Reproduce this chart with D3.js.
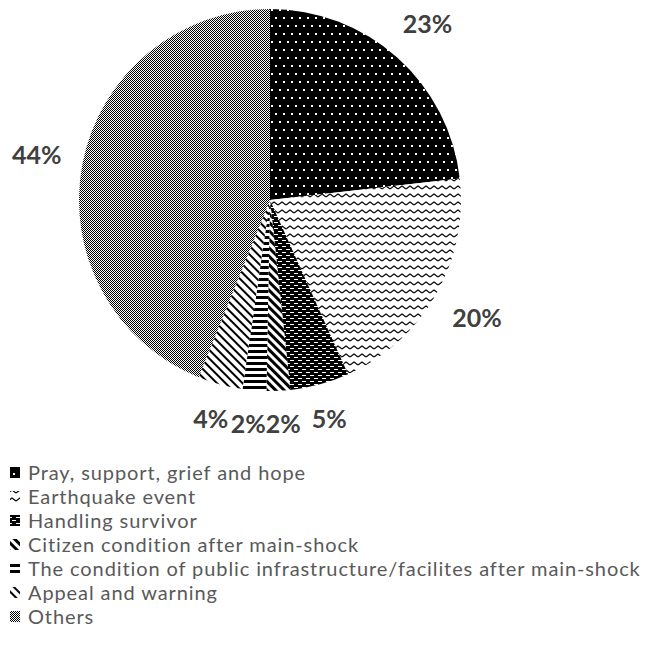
<!DOCTYPE html>
<html>
<head>
<meta charset="utf-8">
<script src="https://cdn.jsdelivr.net/npm/d3@7"></script>
<style>
  body { margin: 0; background: #fff; }
  svg { display: block; }
</style>
</head>
<body>
<svg width="649" height="658"></svg>
<script>
var categories = ["Pray, support, grief and hope", "Earthquake event", "Handling survivor", "Citizen condition after main-shock", "The condition of public infrastructure/facilites after main-shock", "Appeal and warning", "Others"];
var shares = [23.2, 20.1, 5.0, 2.0, 2.0, 3.8, 43.9];
var labels = ["23%", "20%", "5%", "2%", "2%", "4%", "44%"];
var patternIds = ["pDots", "pWave", "pBrick", "pDiag", "pHoriz", "pThin", "pCheck"];

var svg = d3.select("svg"),
    width = +svg.attr("width"),
    height = +svg.attr("height"),
    cx = 270, cy = 200,
    radius = 191;

var defs = svg.append("defs");

function makePattern(id, w, h, bg, rot) {
  var p = defs.append("pattern")
      .attr("id", id)
      .attr("patternUnits", "userSpaceOnUse")
      .attr("width", w)
      .attr("height", h)
      .attr("shape-rendering", "crispEdges");
  if (rot) p.attr("patternTransform", "rotate(" + rot + ")");
  p.append("rect").attr("width", w).attr("height", h).attr("fill", bg);
  return p;
}

// black with white dots
var p = makePattern("pDots", 8, 16, "#000");
p.append("rect").attr("x", 1).attr("y", 1).attr("width", 2).attr("height", 2).attr("fill", "#fff");
p.append("rect").attr("x", 5).attr("y", 9).attr("width", 2).attr("height", 2).attr("fill", "#fff");

// white with zigzag waves
p = makePattern("pWave", 8, 8, "#fff");
p.append("path").attr("d", "M0,5 L4,2 L8,5").attr("fill", "none")
    .attr("stroke", "#000").attr("stroke-width", 1.1).attr("shape-rendering", "auto");

// black with staggered white dashes
p = makePattern("pBrick", 8, 6, "#000");
p.append("rect").attr("x", 0).attr("y", 1).attr("width", 4).attr("height", 1).attr("fill", "#fff");
p.append("rect").attr("x", 4).attr("y", 4).attr("width", 4).attr("height", 1).attr("fill", "#fff");

// wide downward diagonal
p = makePattern("pDiag", 6, 6, "#fff", -45);
p.append("rect").attr("width", 3).attr("height", 6).attr("fill", "#000");

// wide horizontal
p = makePattern("pHoriz", 6, 6, "#fff");
p.append("rect").attr("width", 6).attr("height", 3).attr("fill", "#000");

// thin downward diagonal
p = makePattern("pThin", 6, 6, "#fff", -45);
p.append("rect").attr("width", 1.6).attr("height", 6).attr("fill", "#000");

// 50% checker
p = makePattern("pCheck", 2, 2, "#fff");
p.append("rect").attr("width", 1).attr("height", 1).attr("fill", "#000");
p.append("rect").attr("x", 1).attr("y", 1).attr("width", 1).attr("height", 1).attr("fill", "#000");

var pie = d3.pie().sort(null).value(function(d) { return d; });
var arcs = pie(shares);

var arc = d3.arc().innerRadius(0).outerRadius(radius);

var g = svg.append("g").attr("transform", "translate(" + cx + "," + cy + ")");

g.selectAll("path.slice")
  .data(arcs)
  .enter().append("path")
    .attr("class", "slice")
    .attr("d", arc)
    .attr("fill", function(d, i) { return "url(#" + patternIds[i] + ")"; });

// labels placed just outside the pie so their box clears the circle
var labelGap = 20, halfH = 12;
var lbl = g.selectAll("text.lbl")
  .data(arcs)
  .enter().append("text")
    .attr("class", "lbl")
    .attr("text-anchor", "middle")
    .attr("dy", "0.36em")
    .style("font-family", "Lato, 'Open Sans', sans-serif")
    .style("font-weight", "bold")
    .style("font-size", "25px")
    .style("fill", "#404040")
    .text(function(d, i) { return labels[i]; });

var pos = [];
lbl.each(function(d, i) {
  var w = this.getComputedTextLength(),
      a = (d.startAngle + d.endAngle) / 2,
      ux = Math.sin(a), uy = -Math.cos(a),
      ext = Math.abs(ux) * w / 2 + Math.abs(uy) * halfH,
      r = radius + labelGap + ext;
  pos.push({ x: ux * r, y: uy * r, w: w });
});

// push apart labels that collide
for (var k = 0; k < 20; k++) {
  for (var i = 0; i < pos.length; i++) {
    for (var j = i + 1; j < pos.length; j++) {
      var a = pos[i], b = pos[j];
      var ox = (a.w + b.w) / 2 - Math.abs(a.x - b.x),
          oy = 2 * halfH - Math.abs(a.y - b.y);
      if (ox > 0 && oy > 0) {
        var s = a.x < b.x ? -1 : 1;
        a.x += s * ox / 2;
        b.x -= s * ox / 2;
      }
    }
  }
}

lbl.attr("transform", function(d, i) { return "translate(" + pos[i].x + "," + pos[i].y + ")"; });

// legend
var legendY = d3.scalePoint().domain(categories).range([480, 624]);

var leg = svg.append("g").selectAll("g")
  .data(categories)
  .enter().append("g")
    .attr("transform", function(d) { return "translate(0," + legendY(d) + ")"; });

leg.append("rect")
    .attr("x", 10).attr("y", -13)
    .attr("width", 10).attr("height", 11)
    .attr("fill", function(d, i) { return "url(#" + patternIds[i] + ")"; });

leg.append("text")
    .attr("x", 28)
    .attr("y", 0)
    .style("font-family", "Lato, 'Open Sans', sans-serif")
    .style("font-size", "20px")
    .style("letter-spacing", "0.9px")
    .style("fill", "#595959")
    .text(function(d) { return d; });
</script>
</body>
</html>
